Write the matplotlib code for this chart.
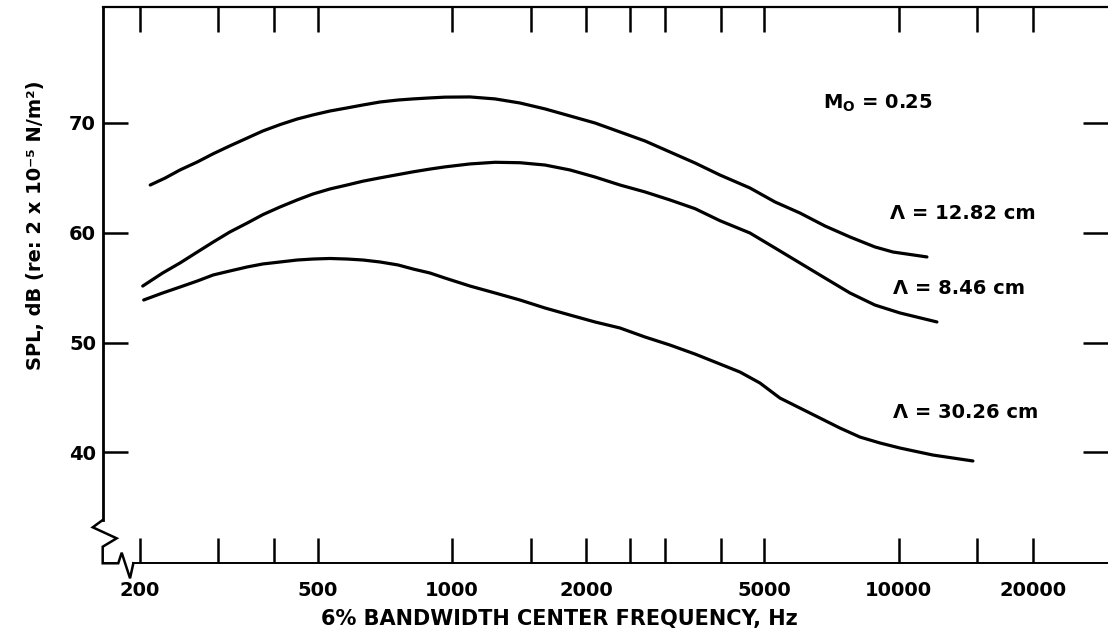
import numpy as np
import matplotlib.pyplot as plt
from matplotlib.ticker import FixedLocator, FixedFormatter, NullLocator

plt.rcParams['font.family'] = 'DejaVu Sans'
plt.rcParams['font.weight'] = 'bold'

# spectra at M0 = 0.25, one per lambda
freq_1282 = [211, 228, 246, 269, 292, 318, 348, 377, 412, 450, 488, 533, 582, 632,
             690, 757, 818, 892, 964, 1097, 1248, 1419, 1615, 1837, 2089, 2377,
             2704, 3075, 3498, 3980, 4645, 5284, 6011, 6838, 7778, 8848, 9708, 11568]
spl_1282 = [64.35, 64.99, 65.72, 66.45, 67.20, 67.91, 68.63, 69.27, 69.85, 70.36,
            70.73, 71.09, 71.37, 71.64, 71.91, 72.09, 72.19, 72.28, 72.35, 72.37,
            72.19, 71.82, 71.28, 70.64, 70.00, 69.18, 68.36, 67.36, 66.36, 65.26,
            64.08, 62.81, 61.80, 60.62, 59.62, 58.71, 58.25, 57.80]

freq_846 = [203, 225, 246, 269, 292, 318, 348, 377, 412, 450, 488, 533, 582, 632,
            690, 757, 818, 892, 964, 1097, 1248, 1419, 1615, 1837, 2089, 2377,
            2704, 3075, 3498, 3980, 4645, 5284, 6011, 6838, 7778, 8848, 10065, 12179]
spl_846 = [55.15, 56.34, 57.25, 58.25, 59.16, 60.07, 60.89, 61.65, 62.35, 62.99,
           63.53, 63.99, 64.35, 64.70, 65.00, 65.30, 65.55, 65.80, 66.00, 66.27,
           66.42, 66.38, 66.17, 65.72, 65.08, 64.35, 63.72, 62.99, 62.20, 61.10,
           59.98, 58.62, 57.25, 55.88, 54.52, 53.42, 52.70, 51.88]

freq_3026 = [204, 225, 246, 269, 292, 318, 348, 377, 412, 450, 488, 533, 582, 632,
             690, 757, 818, 892, 964, 1097, 1248, 1419, 1615, 1837, 2089, 2377,
             2704, 3075, 3498, 3980, 4412, 4891, 5422, 6011, 6664, 7387, 8189,
             9079, 10065, 11932, 14663]
spl_3026 = [53.88, 54.52, 55.06, 55.61, 56.16, 56.52, 56.89, 57.16, 57.34, 57.52,
            57.61, 57.66, 57.61, 57.52, 57.34, 57.07, 56.70, 56.34, 55.88, 55.15,
            54.52, 53.88, 53.15, 52.51, 51.88, 51.33, 50.51, 49.78, 48.96, 48.05,
            47.32, 46.32, 44.95, 44.04, 43.13, 42.22, 41.40, 40.86, 40.40, 39.76,
            39.22]

xticks = [200, 300, 400, 500, 1000, 1500, 2000, 2500, 3000, 4000, 5000, 10000, 15000, 20000]
xlabels = ['200', '', '', '500', '1000', '', '2000', '', '', '', '5000', '10000', '', '20000']
yticks = [40, 50, 60, 70]

fig = plt.figure(figsize=(11.08, 6.29), dpi=100)
ax = fig.add_axes([0.09296, 0.10493, 0.90704, 0.88394])

lw = 2.3
for f, s in [(freq_1282, spl_1282), (freq_846, spl_846), (freq_3026, spl_3026)]:
    ax.plot(f, s, color='black', lw=lw, solid_capstyle='round', solid_joinstyle='round')

ax.set_xscale('log')
ax.set_xlim(165.4, 29420)
ax.set_ylim(29.93, 80.56)

ax.xaxis.set_major_locator(FixedLocator(xticks))
ax.xaxis.set_major_formatter(FixedFormatter(xlabels))
ax.xaxis.set_minor_locator(NullLocator())
ax.set_yticks(yticks)

ax.tick_params(axis='both', direction='in', length=18, width=1.8,
               top=True, right=True, labelsize=14, colors='black')
ax.tick_params(axis='x', pad=13)
ax.tick_params(axis='y', pad=5)

# axis lines with a break at the lower left corner
ax.spines['right'].set_visible(False)
ax.spines['left'].set_linewidth(2.0)
ax.spines['top'].set_linewidth(1.6)
ax.spines['bottom'].set_linewidth(1.4)
ax.spines['left'].set_bounds(33.84, 80.56)
ax.spines['bottom'].set_bounds(193.4, 29420)
brk_x = [-0.0003, -0.0102, 0.0136, -0.0003, -0.0003, 0.0152, 0.0186, 0.0269, 0.0302]
brk_y = [0.0773, 0.0642, 0.0444, 0.0293, -0.0005, -0.0005, 0.0185, -0.0275, -0.0005]
ax.plot(brk_x, brk_y, color='black', lw=1.8, transform=ax.transAxes, clip_on=False,
        solid_joinstyle='miter')

ax.set_xlabel('6% BANDWIDTH CENTER FREQUENCY, Hz', fontsize=15, fontweight='bold')
ax.xaxis.set_label_coords(0.4537, -0.111)
ax.xaxis.label.set_va('baseline')
ax.set_ylabel('SPL, dB (re: 2 x 10⁻⁵ N/m²)', fontsize=14, fontweight='bold')
ax.yaxis.set_label_coords(-0.058, 0.608)

ax.text(0.716, 0.827, r'M$_\mathregular{O}$ = 0.25', transform=ax.transAxes,
        fontsize=14, ha='left', va='center')
ax.text(0.783, 0.629, 'Λ = 12.82 cm', transform=ax.transAxes,
        fontsize=14, ha='left', va='center')
ax.text(0.786, 0.4946, 'Λ = 8.46 cm', transform=ax.transAxes,
        fontsize=14, ha='left', va='center')
ax.text(0.786, 0.270, 'Λ = 30.26 cm', transform=ax.transAxes,
        fontsize=14, ha='left', va='center')

fig.savefig('out.png', dpi=100)
